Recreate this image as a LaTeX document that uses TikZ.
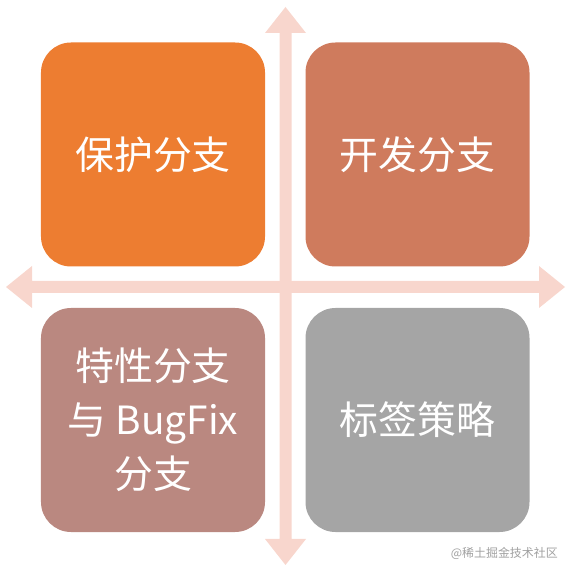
\documentclass[tikz,border=0pt]{standalone}
\usepackage{fontspec}
\newfontfamily\cjk{Noto Sans CJK SC}
\usepackage{tikz}
\usetikzlibrary{calc}
\definecolor{q_orange}{RGB}{237, 125, 49}
\definecolor{q_rust}{RGB}{207, 123, 93}
\definecolor{q_rose}{RGB}{186, 136, 128}
\definecolor{q_grey}{RGB}{165, 165, 165}
\definecolor{q_axis}{RGB}{248, 214, 205}
\definecolor{q_mark}{RGB}{160, 160, 160}
\tikzstyle{qb}=[rectangle,rounded corners=30bp,text=white,inner sep=0pt,
  minimum width=224bp,minimum height=224bp,align=center,
  font=\cjk\fontsize{39}{54}\selectfont]
\tikzstyle{ob}=[qb,fill=q_orange]
\tikzstyle{tb}=[qb,fill=q_rust]
\tikzstyle{pb}=[qb,fill=q_rose]
\tikzstyle{gb}=[qb,fill=q_grey]
\tikzstyle{ax}=[fill=q_axis,draw=none]
\tikzstyle{wm}=[text=q_mark,inner sep=0pt,font=\cjk\fontsize{12}{12}\selectfont]
\tikzstyle{none}=[]
\begin{document}
\begin{tikzpicture}[x=1bp,y=1bp]
            \useasboundingbox (0, 0) rectangle (574, 574);
            \node [style=none] (4) at (285.5, 567) {};
            \node [style=none] (5) at (285.5, 9) {};
            \node [style=none] (6) at (6, 287) {};
            \node [style=none] (7) at (565, 287) {};
            % vertical axis
            \fill [style=ax] (4.center) -- ++(20.5, -26) -- ++(-14.5, 0)
              -- ($(5.center)+(6, 26)$) -- ++(14.5, 0) -- (5.center)
              -- ++(-20.5, 26) -- ++(14.5, 0)
              -- ($(4.center)+(-6, -26)$) -- ++(-14.5, 0) -- cycle;
            % horizontal axis
            \fill [style=ax] (6.center) -- ++(26, 21) -- ++(0, -15)
              -- ($(7.center)+(-26, 6)$) -- ++(0, 15) -- (7.center)
              -- ++(-26, -21) -- ++(0, 15)
              -- ($(6.center)+(26, -6)$) -- ++(0, -15) -- cycle;
            \node [style=ob] (0) at (153, 419.5) {保护分支};
            \node [style=tb] (1) at (417.5, 419.5) {开发分支};
            \node [style=pb] (2) at (153, 154) {特性分支\\与 BugFix\\分支};
            \node [style=gb] (3) at (417.5, 154) {标签策略};
            \node [style=wm, anchor=east] (8) at (558, 21) {@稀土掘金技术社区};
    \end{tikzpicture}
\end{document}
